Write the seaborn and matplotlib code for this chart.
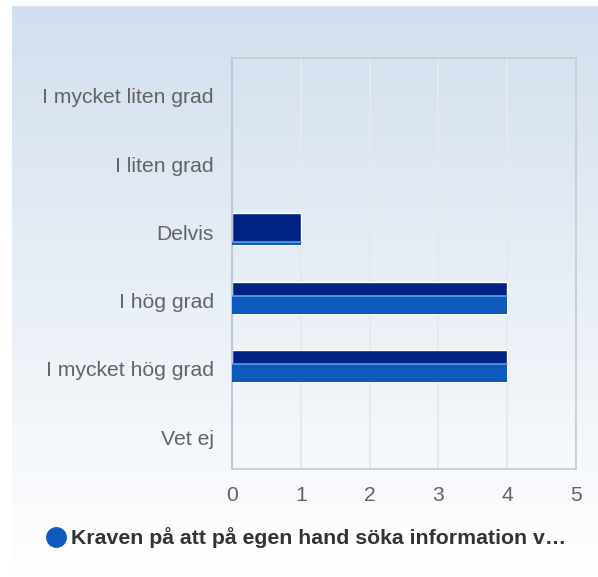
import numpy as np
import pandas as pd
import seaborn as sns
import matplotlib.pyplot as plt
import matplotlib.transforms as mtransforms
from matplotlib.patches import Rectangle
from matplotlib.lines import Line2D

# Data
kategorier = ["I mycket liten grad", "I liten grad", "Delvis", "I hög grad",
              "I mycket hög grad", "Vet ej"]
antal = [0, 0, 1, 4, 4, 0]
serie_namn = "Kraven på att på egen hand söka information v…"
x_ticks = [0, 1, 2, 3, 4, 5]

# andel av stapeln som har den ljusare nedre delen (bara utseende)
glans = [0, 0, 0.12, 0.55, 0.55, 0]

df = pd.DataFrame({"Kategori": kategorier, "Antal": antal})

sns.set_style("white")
plt.rcParams['font.family'] = ['Liberation Sans', 'DejaVu Sans']

W, H = 598, 577
fig = plt.figure(figsize=(W / 100, H / 100), dpi=100)
fig.patch.set_facecolor("white")

# bakgrund med gradient
bg = fig.add_axes([12 / W, 0, 1 - 12 / W, 1 - 6 / H], zorder=-5)
top = np.array([0xD2, 0xDF, 0xEE]) / 255
bot = np.array([1.0, 1.0, 1.0])
t = np.linspace(0, 1, 256)[:, None]
grad = top * (1 - t) + bot * t
bg.imshow(grad[:, None, :], aspect="auto", extent=[0, 1, 0, 1])
bg.axis("off")

ax = fig.add_axes([232 / W, 1 - 469 / H, (576 - 232) / W, (469 - 58) / H])
ax.patch.set_alpha(0)

sns.barplot(data=df, x="Antal", y="Kategori", orient="h", color="#002383",
            width=0.47, saturation=1, edgecolor="white", linewidth=1, ax=ax)

for p, g in zip(ax.patches, glans):
    if p.get_width() == 0:
        p.set_linewidth(0)
        continue
    if g > 0:
        y0 = p.get_y() + p.get_height() * (1 - g)
        h = p.get_height() * g
        ax.add_patch(Rectangle((p.get_x(), y0), p.get_width(), h,
                               facecolor="#0E59BD", edgecolor="none", zorder=3))
        ax.plot([p.get_x(), p.get_x() + p.get_width()], [y0, y0],
                color="#5F9BE6", lw=1.2, zorder=3.5)

ax.set_xlim(0, 5)
ax.set_xticks(x_ticks)
ax.set_xlabel("")
ax.set_ylabel("")
ax.grid(axis="x", color="#E6E8EC", lw=1.5)
ax.set_axisbelow(True)
for side in ["top", "right", "bottom"]:
    ax.spines[side].set_color("#CACDD1")
    ax.spines[side].set_linewidth(1.3)
ax.spines["left"].set_color("#BFC8D8")
ax.spines["left"].set_linewidth(1.5)
ax.tick_params(axis="y", length=0, pad=13, labelsize=15.2, labelcolor="#636363")
ax.tick_params(axis="x", length=0, pad=12, labelsize=15.2, labelcolor="#636363")

# flytta y-etiketterna lite nedat som i originalet
skift = mtransforms.ScaledTranslation(0, -3 / 100, fig.dpi_scale_trans)
for lbl in ax.get_yticklabels():
    lbl.set_transform(lbl.get_transform() + skift)

handle = Line2D([], [], marker="o", linestyle="none", markersize=14,
                markerfacecolor="#0E59BD", markeredgecolor="#0E59BD")
fig.legend([handle], [serie_namn], loc="center",
           bbox_to_anchor=(306 / W, 1 - 538 / H), frameon=False,
           handletextpad=0.2, borderpad=0, handlelength=1.0,
           prop={"weight": "bold", "size": 15.3}, labelcolor="#333333")

fig.savefig("out.png", dpi=100)
